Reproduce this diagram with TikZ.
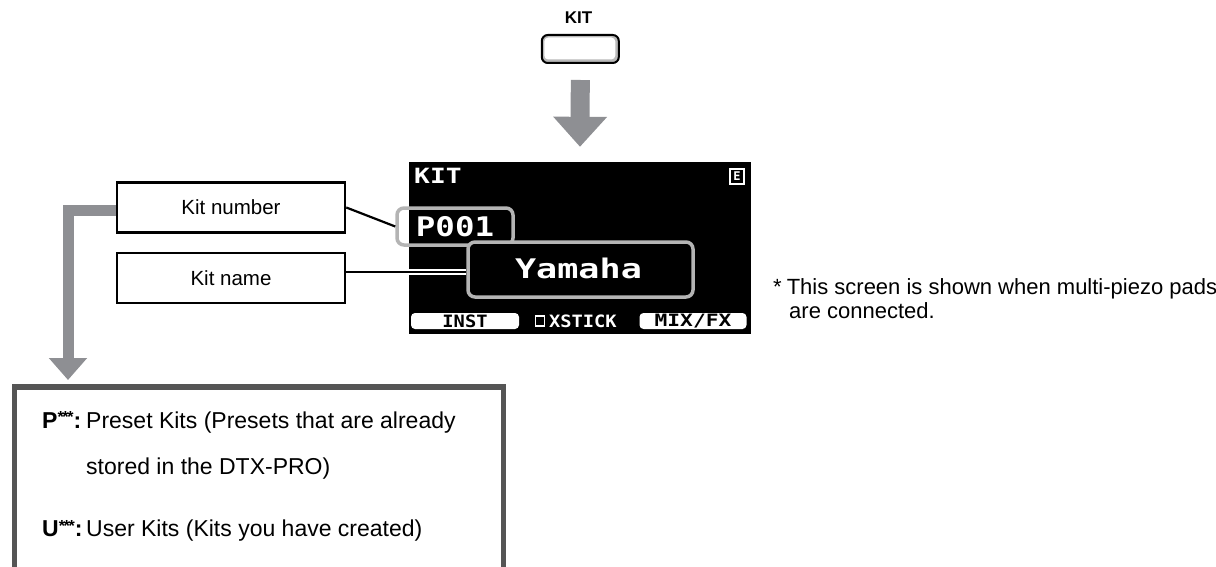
\documentclass[tikz,border=0pt]{standalone}
\usepackage{fontspec}
\setmainfont{Liberation Sans}
\newfontfamily\lcdfont{DejaVu Sans Mono}
\usetikzlibrary{arrows.meta}
\definecolor{arrowgray}{HTML}{8E8F93}
\definecolor{boxgray}{HTML}{555555}
\definecolor{selgray}{HTML}{B4B4B4}
\newcommand{\stars}{\raisebox{5.5pt}{\fontsize{16}{16}\selectfont*\kern-1.3pt*\kern-1.3pt*}}
\tikzset{
  labelbox/.style={draw=black, line width=2.6pt, minimum width=228pt, minimum height=50pt, inner sep=0pt, font=\fontsize{20.5}{24}\selectfont},
  fatarrow/.style={draw=arrowgray, line width=19pt, -{Triangle[width=52pt,length=30pt]}},
  bentarrow/.style={draw=arrowgray, line width=11pt, line join=miter, -{Triangle[width=37pt,length=22pt]}},
  selbox/.style={draw=selgray, line width=3.5pt, rounded corners=7pt, inner sep=0pt},
  lcd/.style={text=white, font=\lcdfont\bfseries, inner sep=0pt},
  pill/.style={fill=white, rounded corners=4pt, inner sep=0pt, minimum height=16pt},
  maintext/.style={anchor=base west, inner sep=0pt, font=\fontsize{23}{27}\selectfont},
  keytext/.style={anchor=base west, inner sep=0pt, font=\fontsize{23}{27}\selectfont\bfseries},
  foottext/.style={anchor=base west, inner sep=0pt, font=\fontsize{22}{26}\selectfont},
  connector/.style={draw=black, line width=2.2pt},
}
\begin{document}
\begin{tikzpicture}[x=1pt, y=-1pt]
\useasboundingbox (0,0) rectangle (1216,567);
% KIT button
\node[font=\fontsize{17}{19}\selectfont\bfseries, inner sep=0pt] (kitlbl) at (578.5,17.5) {KIT};
\node[draw=black, line width=2pt, fill=gray!55, rounded corners=6pt, minimum width=77pt, minimum height=28pt, inner sep=0pt] (btn) at (580.3,49) {};
\fill[white, rounded corners=4pt] ([shift={(3.5,3.5)}]btn.north west) rectangle ([shift={(-4.5,-4.5)}]btn.south east);
% Screen
\node[fill=black, minimum width=342pt, minimum height=172pt, inner sep=0pt] (screen) at (580,248) {};
\draw[fatarrow] ([yshift=-16pt]btn.south) -- ([yshift=15pt]screen.north);
\node[lcd, font=\lcdfont\bfseries\fontsize{21}{24}\selectfont, anchor=north west] (scrtitle) at (414,168) {\scalebox{1.25}[1]{KIT}};
\node[draw=white, line width=1.4pt, minimum width=14pt, minimum height=15pt, inner sep=0pt, lcd, font=\lcdfont\bfseries\fontsize{12}{12}\selectfont] (eicon) at (737,176.5) {E};
% P001 and Yamaha
\node[selbox, minimum width=116pt, minimum height=37pt] (pbox) at (455,226.5) {};
\node[lcd, font=\lcdfont\bfseries\fontsize{27}{30}\selectfont] (pnum) at (455,227) {\scalebox{1.2}[1]{P001}};
\node[selbox, fill=black, minimum width=225pt, minimum height=55pt] (ybox) at (580.5,269.5) {};
\node[lcd, font=\lcdfont\bfseries\fontsize{27}{30}\selectfont] (yname) at (578.5,268.5) {\scalebox{1.3}[1]{Yamaha}};
% bottom row
\node[pill, minimum width=108pt] (inst) at (465,321) {\lcdfont\bfseries\fontsize{17}{17}\selectfont\scalebox{1.1}[1]{INST}};
\node[draw=white, line width=1.5pt, minimum width=9pt, minimum height=10pt, inner sep=0pt] (chk) at (540,321) {};
\node[lcd, font=\lcdfont\bfseries\fontsize{17}{17}\selectfont, anchor=west] (xstick) at (549,321) {\scalebox{1.1}[1]{XSTICK}};
\node[pill, minimum width=107pt] (mix) at (693,321) {\lcdfont\bfseries\fontsize{17}{17}\selectfont\scalebox{1.25}[1]{MIX/FX}};
% Label boxes
\node[labelbox] (kitnum) at (231,207.5) {Kit number};
\node[labelbox] (kitname) at (231,278) {Kit name};
\draw[connector] (kitnum.east) -- (pbox.west);
\draw[white, line width=1.4pt, double=black, double distance=2.4pt] (kitname.east |- 0,272) -- (ybox.west |- 0,272);
% Bent arrow to info box
\coordinate (bend) at (68,210);
\coordinate (tip) at (68,380);
\draw[bentarrow] (kitnum.west |- bend) -- (bend) -- (tip);
% Info box (open at bottom)
\draw[boxgray, line width=5.5pt] (14.5,567) -- (14.5,387) -- (503.5,387) -- (503.5,567);
\node[keytext] (pkey) at (42,428.3) {P\stars:};
\node[maintext] (pdesc1) at (86,428.3) {Preset Kits (Presets that are already};
\node[maintext] (pdesc2) at (86,474.3) {stored in the DTX-PRO)};
\node[keytext] (ukey) at (42,536.7) {U\stars:};
\node[maintext] (udesc) at (86,536.7) {User Kits (Kits you have created)};
% Footnote
\node[foottext] (foot1) at (773,294) {*\hspace{5pt}This screen is shown when multi-piezo pads};
\node[foottext] (foot2) at (789,318) {are connected.};
\end{tikzpicture}
\end{document}
